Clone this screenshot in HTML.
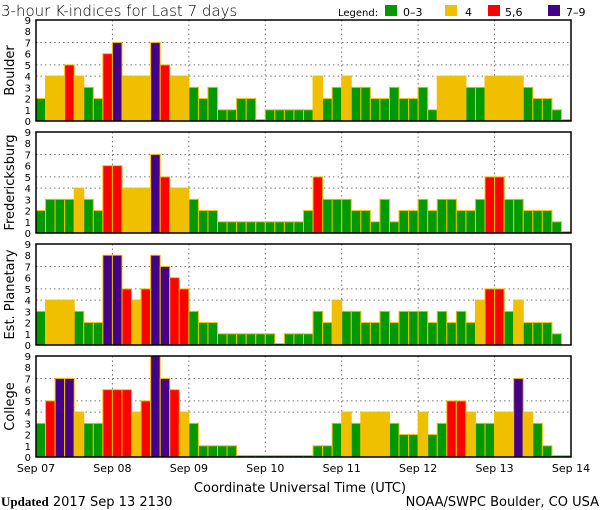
<!DOCTYPE html>
<html><head><meta charset="utf-8"><style>
body{margin:0;background:#fff;width:600px;height:510px;overflow:hidden}
svg{display:block}
text{font-family:"DejaVu Sans","Liberation Sans",sans-serif}
</style></head><body>
<svg id="c" width="600" height="510" xmlns="http://www.w3.org/2000/svg">
<text x="1" y="16" font-size="15" font-weight="300">3-hour K-indices for Last 7 days</text>
<g font-size="11">
<text x="338" y="16" font-size="10">Legend:</text>
<rect x="385" y="5" width="12" height="11" fill="#009900"/><text x="403" y="16">0–3</text>
<rect x="445" y="5" width="12" height="11" fill="#f0c000"/><text x="465" y="16">4</text>
<rect x="488" y="5" width="12" height="11" fill="#ff0000"/><text x="505" y="16">5,6</text>
<rect x="548" y="5" width="12" height="11" fill="#440088"/><text x="566" y="16">7–9</text>
</g>
<text x="300" y="492" font-size="13" text-anchor="middle">Coordinate Universal Time (UTC)</text>
<text x="1" y="506" font-size="13"><tspan font-weight="bold" font-family="Liberation Serif">Updated</tspan> 2017 Sep 13 2130</text>
<text x="599" y="506" font-size="13" text-anchor="end">NOAA/SWPC Boulder, CO USA</text>
</svg>
<script>
const dayLabels=["Sep 07","Sep 08","Sep 09","Sep 10","Sep 11","Sep 12","Sep 13","Sep 14"];
const stations=["Boulder","Fredericksburg","Est. Planetary","College"];
const boulder=[2,4,4,5,4,3,2,6, 7,4,4,4,7,5,4,4, 3,2,3,1,1,2,2,0, 1,1,1,1,1,4,2,3, 4,3,3,2,2,3,2,2, 3,1,4,4,4,3,3,4, 4,4,4,3,2,2,1,0];
const fredericksburg=[2,3,3,3,4,3,2,6, 6,4,4,4,7,5,4,4, 3,2,2,1,1,1,1,1, 1,1,1,1,2,5,3,3, 3,2,2,1,3,1,2,2, 3,2,3,3,2,2,3,5, 5,3,3,2,2,2,1,0];
const planetary=[3,4,4,4,3,2,2,8, 8,5,4,5,8,7,6,5, 3,2,2,1,1,1,1,1, 1,0,1,1,1,3,2,4, 3,3,2,2,3,2,3,3, 3,2,3,2,3,2,4,5, 5,3,4,2,2,2,1,null];
const college=[3,5,7,7,4,3,3,6, 6,6,4,5,9,7,6,4, 3,1,1,1,1,0,0,0, 0,0,0,0,0,1,1,3, 4,3,4,4,4,3,2,2, 4,2,3,5,5,4,3,3, 4,4,7,4,3,1,0,0];
const yTicks=[0,1,2,3,4,5,6,7,8,9];
const series=[boulder,fredericksburg,planetary,college];
const NS="http://www.w3.org/2000/svg";
const svg=document.getElementById('c');
const X0=36,X1=571,PH=101,tops=[20,132,244,356];
const bw=(X1-X0)/56;
function xs(i){return X0+i*bw;}
function mk(t,a,p){const e=document.createElementNS(NS,t);for(const k in a)e.setAttribute(k,a[k]);(p||svg).appendChild(e);return e;}
function col(v){return v<=3?"#009900":v==4?"#f0c000":v<=6?"#ff0000":"#440088";}
series.forEach((vals,p)=>{
  const top=tops[p],bot=top+PH;
  const ys=v=>bot-v*PH/9;
  const g=mk('g',{});
  
  
  [4,5,7].forEach(v=>{const l=mk('line',{x1:X0,x2:X1,y1:ys(v),y2:ys(v),stroke:'#777','stroke-dasharray':'1.5,3'},g);
    
    });
  for(let d=1;d<7;d++){const l=mk('line',{x1:xs(d*8),x2:xs(d*8),y1:top,y2:bot,stroke:'#777','stroke-dasharray':'1.5,3'},g);
    
    }
  vals.forEach((v,i)=>{
    if(v===null)return;
    const h=v===0?1.5:v*PH/9;
    const r=mk('rect',{x:xs(i),y:bot-h,width:bw,height:h,fill:col(v),stroke:'#f0c000','stroke-width':1},g);
    
    
  });
  const f=mk('rect',{x:X0,y:top,width:X1-X0,height:PH,fill:'none',stroke:'#000','stroke-width':1.5},g);
  
  
  yTicks.forEach(v=>{const t=mk('text',{x:31,y:ys(v)+4,'font-size':10,'text-anchor':'end'},g);t.textContent=v;
    
    });
  const cy=top+PH/2;
  const tt=mk('text',{x:14,y:cy,'font-size':13,'text-anchor':'middle',transform:`rotate(-90 14 ${cy})`},g);
  tt.textContent=stations[p];
  
  
});
dayLabels.forEach((d,k)=>{const t=mk('text',{x:xs(k*8),y:472,'font-size':11,'text-anchor':'middle'});t.textContent=d;
  
  });
</script>
</body></html>
